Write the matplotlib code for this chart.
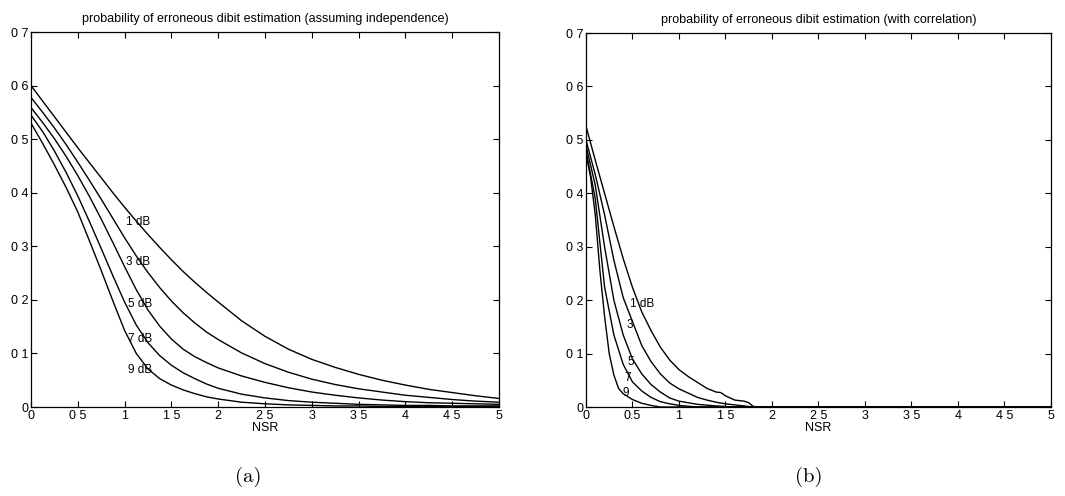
import matplotlib.pyplot as plt
import numpy as np

plt.rcParams['font.family'] = ['Liberation Sans', 'DejaVu Sans']

# (a) independence assumption, common NSR grid (finer where curves bend)
nsr_a = [0, 0.125, 0.25, 0.375, 0.5, 0.625, 0.75, 0.875, 1.0, 1.125, 1.25, 1.375,
         1.5, 1.625, 1.75, 1.875, 2.0, 2.25, 2.5, 2.75, 3.0, 3.25, 3.5, 3.75,
         4.0, 4.25, 4.5, 4.75, 5.0]
pe_a_1db = [0.600, 0.571, 0.542, 0.513, 0.484, 0.456, 0.428, 0.400, 0.373, 0.347, 0.322,
            0.298, 0.275, 0.253, 0.233, 0.214, 0.196, 0.161, 0.132, 0.108, 0.089, 0.074,
            0.061, 0.050, 0.041, 0.033, 0.027, 0.021, 0.016]
pe_a_3db = [0.578, 0.550, 0.521, 0.490, 0.457, 0.423, 0.388, 0.352, 0.316, 0.282, 0.251,
            0.223, 0.198, 0.176, 0.157, 0.140, 0.126, 0.101, 0.081, 0.065, 0.052, 0.042,
            0.034, 0.028, 0.022, 0.018, 0.014, 0.011, 0.009]
pe_a_5db = [0.559, 0.531, 0.501, 0.468, 0.432, 0.393, 0.351, 0.307, 0.262, 0.219, 0.181,
            0.151, 0.127, 0.108, 0.094, 0.083, 0.073, 0.058, 0.046, 0.036, 0.028, 0.022,
            0.017, 0.013, 0.010, 0.008, 0.007, 0.006, 0.005]
pe_a_7db = [0.545, 0.514, 0.478, 0.438, 0.394, 0.346, 0.296, 0.245, 0.196, 0.153, 0.120,
            0.096, 0.078, 0.064, 0.053, 0.043, 0.035, 0.024, 0.017, 0.012, 0.009, 0.007,
            0.005, 0.004, 0.003, 0.003, 0.002, 0.002, 0.002]
pe_a_9db = [0.530, 0.492, 0.452, 0.410, 0.364, 0.310, 0.255, 0.198, 0.143, 0.100, 0.071,
            0.053, 0.041, 0.032, 0.025, 0.019, 0.015, 0.009, 0.006, 0.004, 0.003, 0.002,
            0.002, 0.001, 0.001, 0.001, 0.001, 0.001, 0.001]

# (b) with correlation, each curve on its own NSR grid
nsr_b_1db = [0, 0.1, 0.2, 0.3, 0.4, 0.5, 0.6, 0.7, 0.8, 0.9, 1.0, 1.1, 1.2, 1.3, 1.4,
             1.45, 1.5, 1.6, 1.7, 1.75, 1.8, 1.9, 5.0]
pe_b_1db = [0.526, 0.462, 0.400, 0.338, 0.278, 0.224, 0.178, 0.143, 0.112, 0.088, 0.070,
            0.057, 0.046, 0.035, 0.028, 0.027, 0.021, 0.013, 0.011, 0.008, 0.001, 0.0, 0.0]
nsr_b_3db = [0, 0.1, 0.2, 0.3, 0.4, 0.5, 0.6, 0.7, 0.8, 0.9, 1.0, 1.1, 1.2, 1.3, 1.4,
             1.5, 1.6, 1.7, 1.8, 5.0]
pe_b_3db = [0.500, 0.435, 0.360, 0.275, 0.205, 0.160, 0.115, 0.085, 0.062, 0.045, 0.034,
            0.026, 0.018, 0.013, 0.009, 0.006, 0.004, 0.002, 0.0, 0.0]
nsr_b_5db = [0, 0.1, 0.2, 0.3, 0.4, 0.5, 0.6, 0.7, 0.8, 0.9, 1.0, 1.2, 1.4, 1.6, 5.0]
pe_b_5db = [0.490, 0.415, 0.300, 0.200, 0.135, 0.090, 0.062, 0.042, 0.028, 0.017, 0.011,
            0.005, 0.002, 0.0, 0.0]
nsr_b_7db = [0, 0.1, 0.2, 0.3, 0.4, 0.5, 0.6, 0.7, 0.8, 0.9, 1.0, 1.2, 5.0]
pe_b_7db = [0.480, 0.390, 0.225, 0.135, 0.080, 0.047, 0.030, 0.018, 0.010, 0.006, 0.003,
            0.0, 0.0]
nsr_b_9db = [0, 0.05, 0.1, 0.15, 0.2, 0.25, 0.3, 0.35, 0.4, 0.5, 0.6, 0.7, 0.8, 5.0]
pe_b_9db = [0.475, 0.430, 0.360, 0.255, 0.170, 0.100, 0.060, 0.035, 0.025, 0.014, 0.007,
            0.003, 0.0, 0.0]

snr_labels_a = ['1 dB', '3 dB', '5 dB', '7 dB', '9 dB']
snr_labels_b = ['1 dB', '3', '5', '7', '9']
label_pos_a = [(1.14, 0.345), (1.14, 0.271), (1.165, 0.192), (1.165, 0.127), (1.165, 0.069)]
label_pos_b = [(0.60, 0.193), (0.473, 0.154), (0.48, 0.085), (0.448, 0.055), (0.43, 0.026)]

xticks = [0, 0.5, 1, 1.5, 2, 2.5, 3, 3.5, 4, 4.5, 5]
xticklabels_a = ['0', '0 5', '1', '1 5', '2', '2 5', '3', '3 5', '4', '4 5', '5']
xticklabels_b = ['0', '0.5', '1', '1 5', '2', '2 5', '3', '3 5', '4', '4 5', '5']
yticks = [0, 0.1, 0.2, 0.3, 0.4, 0.5, 0.6, 0.7]
yticklabels = ['0', '0 1', '0 2', '0 3', '0 4', '0 5', '0 6', '0 7']

fig = plt.figure(figsize=(10.65, 4.96), dpi=100)
ax_a = fig.add_axes([0.0291, 0.1794, 0.4394, 0.756])
ax_b = fig.add_axes([0.5502, 0.1794, 0.4366, 0.754])


def style(ax, title, xtl):
    ax.set_xlim(0, 5)
    ax.set_ylim(0, 0.7)
    ax.set_xticks(xticks)
    ax.set_xticklabels(xtl)
    ax.set_yticks(yticks)
    ax.set_yticklabels(yticklabels)
    ax.tick_params(direction='in', top=True, right=True, length=4, width=0.8,
                   labelsize=9, pad=2)
    for s in ax.spines.values():
        s.set_linewidth(0.9)
    ax.set_title(title, fontsize=9, pad=7)
    ax.set_xlabel('NSR', fontsize=9, labelpad=0)


lw = 1.0
for y in [pe_a_1db, pe_a_3db, pe_a_5db, pe_a_7db, pe_a_9db]:
    ax_a.plot(nsr_a, y, color='black', lw=lw)
for (x, y), s in zip(label_pos_a, snr_labels_a):
    ax_a.text(x, y, s, fontsize=8.5, ha='center', va='center')
style(ax_a, 'probability of erroneous dibit estimation (assuming independence)', xticklabels_a)

for x, y in [(nsr_b_1db, pe_b_1db), (nsr_b_3db, pe_b_3db), (nsr_b_5db, pe_b_5db),
             (nsr_b_7db, pe_b_7db), (nsr_b_9db, pe_b_9db)]:
    ax_b.plot(x, y, color='black', lw=lw)
for (x, y), s in zip(label_pos_b, snr_labels_b):
    ax_b.text(x, y, s, fontsize=8.5, ha='center', va='center')
style(ax_b, 'probability of erroneous dibit estimation (with correlation)', xticklabels_b)

fig.text(0.233, 0.038, '(a)', fontsize=15, family='cmr10', ha='center', va='center')
fig.text(0.759, 0.038, '(b)', fontsize=15, family='cmr10', ha='center', va='center')

fig.savefig('out.png', dpi=100)
